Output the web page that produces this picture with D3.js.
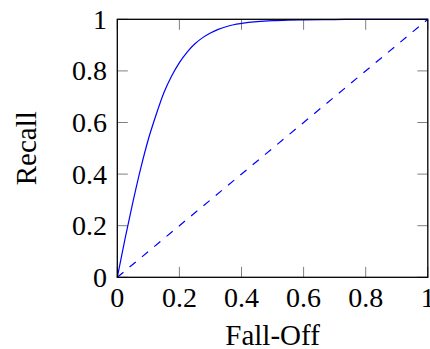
<!DOCTYPE html>
<html><head><meta charset="utf-8">
<script src="https://cdn.jsdelivr.net/npm/d3@7"></script>
<style>html,body{margin:0;padding:0;background:#fff;}</style>
</head><body>
<script>
const fallOff = [0,0.025,0.05,0.075,0.1,0.125,0.15,0.175,0.2,0.225,0.25,0.275,0.3,0.325,0.35,0.375,0.4,0.45,0.5,0.55,0.6,0.7,0.8,0.9,1];
const recall  = [0,0.15,0.29,0.42,0.535,0.63,0.715,0.78,0.832,0.873,0.905,0.929,0.947,0.961,0.971,0.979,0.984,0.991,0.995,0.997,0.998,0.999,1,1,1];
const diagX = [0,1];
const diagY = [0,1];
const xTicks = [0,0.2,0.4,0.6,0.8,1];
const yTicks = [0,0.2,0.4,0.6,0.8,1];
const xTickLabels = ["0","0.2","0.4","0.6","0.8","1"];
const yTickLabels = ["0","0.2","0.4","0.6","0.8","1"];

const W=430,H=349;
const L=117.3,R=427.8,T=19.3,B=277.3;
const font='"Liberation Serif", "DejaVu Serif", serif';
const svg=d3.select("body").append("svg").attr("width",W).attr("height",H);
const x=d3.scaleLinear().domain([0,1]).range([L,R]);
const y=d3.scaleLinear().domain([0,1]).range([B,T]);

// ticks (inside, all four sides)
const tl=10.5;
const tg=svg.append("g").attr("stroke","#808080").attr("stroke-width",1);
xTicks.forEach(v=>{
  tg.append("line").attr("x1",x(v)).attr("x2",x(v)).attr("y1",B).attr("y2",B-tl);
  tg.append("line").attr("x1",x(v)).attr("x2",x(v)).attr("y1",T).attr("y2",T+tl);
});
yTicks.forEach(v=>{
  tg.append("line").attr("y1",y(v)).attr("y2",y(v)).attr("x1",L).attr("x2",L+tl);
  tg.append("line").attr("y1",y(v)).attr("y2",y(v)).attr("x1",R).attr("x2",R-tl);
});

// diagonal dashed
svg.append("path").datum(diagX.map((d,i)=>[d,diagY[i]]))
  .attr("d",d3.line().x(d=>x(d[0])).y(d=>y(d[1])))
  .attr("fill","none").attr("stroke","#0000ff").attr("stroke-width",1.2)
  .attr("stroke-dasharray","8,8");

// ROC curve
svg.append("path").datum(fallOff.map((d,i)=>[d,recall[i]]))
  .attr("d",d3.line().x(d=>x(d[0])).y(d=>y(d[1])).curve(d3.curveMonotoneX))
  .attr("fill","none").attr("stroke","#0000ff").attr("stroke-width",1.2);

// frame
svg.append("rect").attr("x",L).attr("y",T).attr("width",R-L).attr("height",B-T)
  .attr("fill","none").attr("stroke","#000").attr("stroke-width",1.3);

// tick labels
const fs=28;
svg.append("g").selectAll("text").data(xTicks).join("text")
  .attr("x",d=>x(d)).attr("y",307).attr("text-anchor","middle")
  .attr("font-family",font).attr("font-size",fs).attr("fill","#000")
  .text((d,i)=>xTickLabels[i]);
svg.append("g").selectAll("text").data(yTicks).join("text")
  .attr("x",107).attr("y",d=>y(d)).attr("dy","0.34em").attr("text-anchor","end")
  .attr("font-family",font).attr("font-size",fs).attr("fill","#000")
  .text((d,i)=>yTickLabels[i]);

// axis labels
svg.append("text").attr("x",(L+R)/2).attr("y",345).attr("text-anchor","middle")
  .attr("font-family",font).attr("font-size",29).attr("fill","#000").text("Fall-Off");
svg.append("text").attr("transform",`translate(36,${(T+B)/2}) rotate(-90)`).attr("text-anchor","middle")
  .attr("font-family",font).attr("font-size",29).attr("fill","#000").text("Recall");
</script>
</body></html>
